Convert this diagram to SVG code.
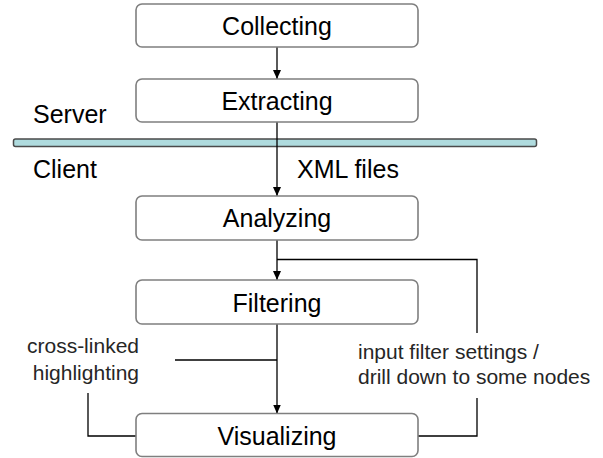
<svg xmlns="http://www.w3.org/2000/svg" width="603" height="458" viewBox="0 0 603 458">
<style>
.box{fill:#fff;stroke:#7f7f7f;stroke-width:1.6}
.lbl{font-family:"Liberation Sans",Arial,sans-serif;font-size:25px;fill:#000;text-anchor:middle}
.side{font-family:"Liberation Sans",Arial,sans-serif;font-size:25px;fill:#000}
.note{font-family:"Liberation Sans",Arial,sans-serif;font-size:21px;fill:#262626}
.ln{fill:none;stroke:#000;stroke-width:1.3}
</style>
<defs>
<marker id="arr" markerWidth="10" markerHeight="10" refX="9" refY="5" orient="auto" markerUnits="userSpaceOnUse">
<path d="M0,1 L9,5 L0,9 Z" fill="#000"/>
</marker>
</defs>
<rect width="603" height="458" fill="#fff"/>
<g id="separator">
<rect x="13.5" y="139" width="523" height="7.5" rx="2" fill="#afdbde" stroke="#4a4a4a" stroke-width="1.5"/>
</g>
<g id="connectors">
<line class="ln" x1="277" y1="47" x2="277" y2="79" marker-end="url(#arr)"/>
<line class="ln" x1="277" y1="122" x2="277" y2="196" marker-end="url(#arr)"/>
<line class="ln" x1="277" y1="240" x2="277" y2="280" marker-end="url(#arr)"/>
<line class="ln" x1="277" y1="324" x2="277" y2="413.5" marker-end="url(#arr)"/>
<polyline class="ln" points="277,259.5 477,259.5 477,333"/>
<polyline class="ln" points="477,398 477,436 418,436"/>
<line class="ln" x1="175" y1="360" x2="277" y2="360"/>
<polyline class="ln" points="88,393 88,436 136,436"/>
</g>
<g id="collecting">
<rect class="box" x="136" y="4" width="282" height="43" rx="6"/>
<text class="lbl" x="277" y="35">Collecting</text>
</g>
<g id="extracting">
<rect class="box" x="136" y="79" width="282" height="43" rx="6"/>
<text class="lbl" x="277" y="110">Extracting</text>
</g>
<g id="analyzing">
<rect class="box" x="136" y="196" width="282" height="44" rx="6"/>
<text class="lbl" x="277" y="227">Analyzing</text>
</g>
<g id="filtering">
<rect class="box" x="136" y="280" width="282" height="44" rx="6"/>
<text class="lbl" x="277" y="311.5">Filtering</text>
</g>
<g id="visualizing">
<rect class="box" x="136" y="413.5" width="282" height="43" rx="6"/>
<text class="lbl" x="277" y="445">Visualizing</text>
</g>
<g id="labels">
<text class="side" x="33" y="122.5">Server</text>
<text class="side" x="33" y="178">Client</text>
<text class="side" x="297" y="177.5">XML files</text>
<text class="note" x="139" y="353" text-anchor="end">cross-linked</text>
<text class="note" x="139" y="380" text-anchor="end">highlighting</text>
<text class="note" x="358" y="358.5">input filter settings /</text>
<text class="note" x="358" y="383.5">drill down to some nodes</text>
</g>
</svg>
